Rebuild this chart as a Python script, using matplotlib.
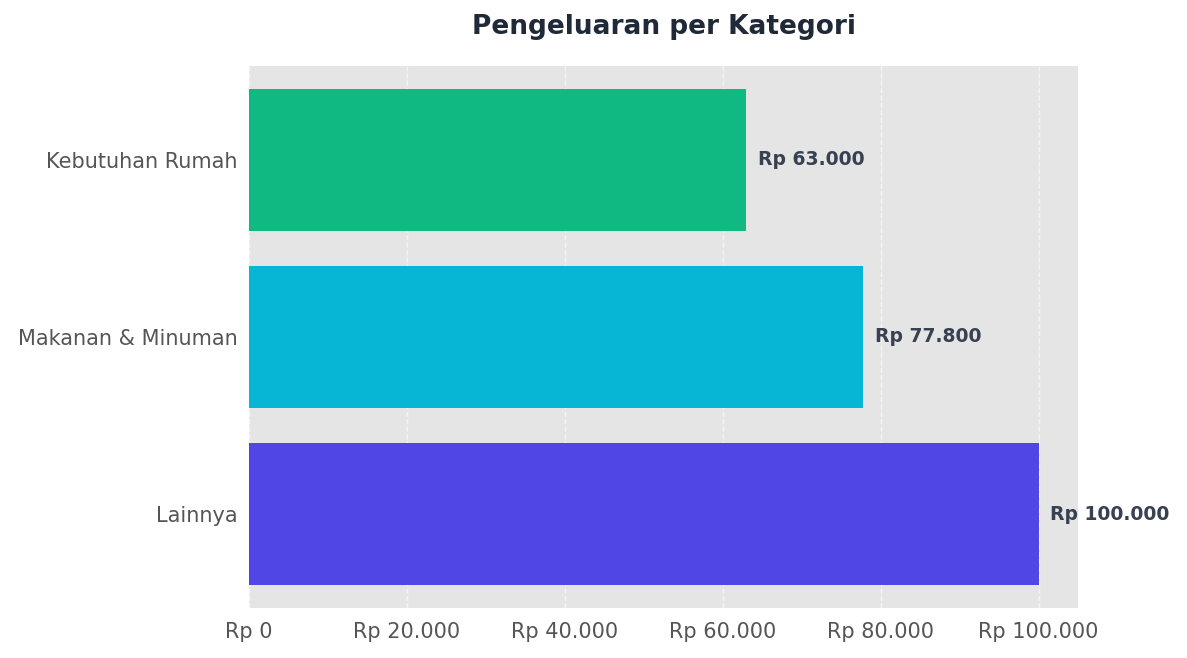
import matplotlib
matplotlib.use("Agg")
import matplotlib.pyplot as plt
from matplotlib.ticker import FuncFormatter

categories = ["Lainnya", "Makanan & Minuman", "Kebutuhan Rumah"]
values = [100000, 77800, 63000]
colors = ["#4f46e5", "#06b6d4", "#10b981"]

def rp(v):
    return "Rp " + f"{int(v):,}".replace(",", ".")

fig = plt.figure(figsize=(11.87, 6.58), dpi=100)
ax = fig.add_axes([249/1187, 1-608/658, (1078-249)/1187, (608-66)/658])
ax.set_facecolor("#e5e5e5")
ax.barh(categories, values, color=colors, height=0.8, zorder=2)
ax.set_xlim(0, 105000)
ax.set_ylim(-0.53, 2.53)
ax.set_xticks([0, 20000, 40000, 60000, 80000, 100000])
ax.xaxis.set_major_formatter(FuncFormatter(lambda v, p: rp(v)))
ax.grid(axis="x", color="white", linestyle="--", linewidth=1, alpha=0.6, zorder=1)
ax.grid(axis="y", visible=False)
for s in ax.spines.values():
    s.set_visible(False)
ax.tick_params(length=0, labelsize=15, colors="#555555", pad=8)
ax.tick_params(axis="x", pad=10)
for i, v in enumerate(values):
    ax.text(v + 1500, i, rp(v), va="center", ha="left", fontsize=13.5,
            fontweight="bold", color="#374151")
fig.suptitle("Pengeluaran per Kategori", x=664/1187, y=1-27/658, va="center",
             fontsize=19, fontweight="bold", color="#1f2937")
fig.savefig("out.png", dpi=100)
